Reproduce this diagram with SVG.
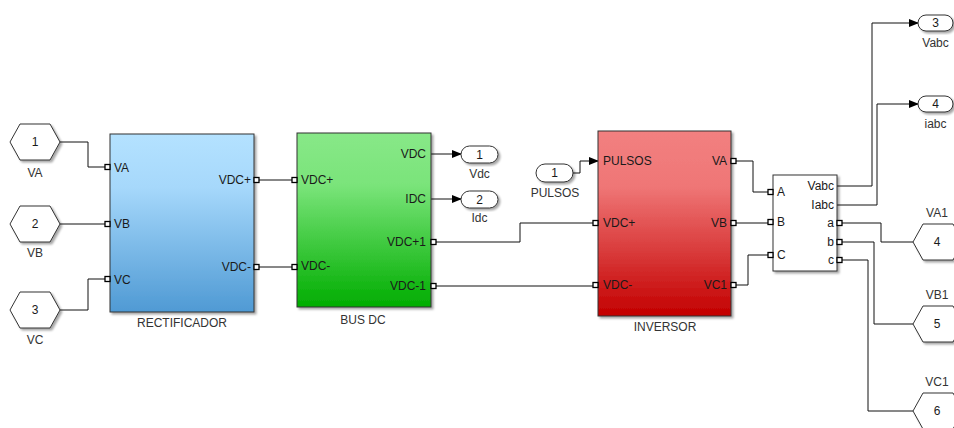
<svg xmlns="http://www.w3.org/2000/svg" width="954" height="428" viewBox="0 0 954 428">
<defs>
<linearGradient id="gBlue" x1="0" y1="0" x2="0" y2="1"><stop offset="0" stop-color="#b4e2ff"/><stop offset="0.3" stop-color="#a6d8fb"/><stop offset="1" stop-color="#4f9ad4"/></linearGradient>
<linearGradient id="gGreen" x1="0" y1="0" x2="0" y2="1"><stop offset="0" stop-color="#88e888"/><stop offset="0.3" stop-color="#7ae47a"/><stop offset="1" stop-color="#00ad00"/></linearGradient>
<linearGradient id="gRed" x1="0" y1="0" x2="0" y2="1"><stop offset="0" stop-color="#f28080"/><stop offset="0.3" stop-color="#ef7676"/><stop offset="1" stop-color="#c30000"/></linearGradient>
<filter id="sh" x="-10%" y="-10%" width="130%" height="130%"><feDropShadow dx="2" dy="2" stdDeviation="1.2" flood-color="#000" flood-opacity="0.35"/></filter>
<marker id="arr" markerWidth="10" markerHeight="8" refX="9" refY="4" orient="auto" markerUnits="userSpaceOnUse"><path d="M0,0 L10,4 L0,8 Z" fill="#000"/></marker>
</defs>
<style>
text{font-family:"Liberation Sans",Arial,sans-serif;font-size:12px;fill:#1a1a1a}
.lbl{fill:#333;text-anchor:middle}
.blk{stroke:#333;stroke-width:1}
.port{fill:#fff;stroke:#000;stroke-width:1.3}
.w{fill:none;stroke:#111;stroke-width:1}
.hex{fill:#fff;stroke:#333;stroke-width:1}
.pill{fill:#fff;stroke:#333;stroke-width:1}
.mid{text-anchor:middle}
.end{text-anchor:end}
</style>
<rect width="954" height="428" fill="#fff"/>

<g id="connectors">
<path class="w" d="M60,142 H88 V167 H105"/>
<path class="w" d="M60,224 H105"/>
<path class="w" d="M60,310 H88 V279 H105"/>
<path class="w" d="M259,180 H292"/>
<path class="w" d="M259,267 H292"/>
<path class="w" d="M431,154 H461" marker-end="url(#arr)"/>
<path class="w" d="M431,199 H461" marker-end="url(#arr)"/>
<path class="w" d="M436,242 H520 V223 H593"/>
<path class="w" d="M436,286 H593"/>
<path class="w" d="M573,173 H580 V161 H598" marker-end="url(#arr)"/>
<path class="w" d="M736,161 H753 V192 H768"/>
<path class="w" d="M736,223 H768"/>
<path class="w" d="M736,285 H748 V255 H768"/>
<path class="w" d="M837,186 H872 V23 H918" marker-end="url(#arr)"/>
<path class="w" d="M837,205 H877 V104 H918" marker-end="url(#arr)"/>
<path class="w" d="M842,223 H881 V242 H913"/>
<path class="w" d="M842,242 H874 V324 H913"/>
<path class="w" d="M842,260 H868 V411 H913"/>
</g>

<g id="in_VA">
<polygon class="hex" filter="url(#sh)" points="10,142 20,124 50,124 60,142 50,160 20,160"/>
<text class="mid" x="35" y="146">1</text>
<text class="lbl" x="35" y="177">VA</text>
</g>
<g id="in_VB">
<polygon class="hex" filter="url(#sh)" points="10,224 20,206 50,206 60,224 50,242 20,242"/>
<text class="mid" x="35" y="228">2</text>
<text class="lbl" x="35" y="257">VB</text>
</g>
<g id="in_VC">
<polygon class="hex" filter="url(#sh)" points="10,310 20,292 50,292 60,310 50,328 20,328"/>
<text class="mid" x="35" y="314">3</text>
<text class="lbl" x="35" y="344">VC</text>
</g>

<g id="rectificador">
<rect class="blk" filter="url(#sh)" x="110" y="134" width="144" height="178" fill="url(#gBlue)"/>
<rect class="port" x="105" y="164.5" width="5" height="5"/>
<rect class="port" x="105" y="221.5" width="5" height="5"/>
<rect class="port" x="105" y="276.5" width="5" height="5"/>
<rect class="port" x="254" y="177.5" width="5" height="5"/>
<rect class="port" x="254" y="264.5" width="5" height="5"/>
<text x="114" y="172">VA</text>
<text x="114" y="228">VB</text>
<text x="114" y="284">VC</text>
<text class="end" x="251" y="184">VDC+</text>
<text class="end" x="251" y="271">VDC-</text>
<text class="lbl" x="182" y="327">RECTIFICADOR</text>
</g>

<g id="busdc">
<rect class="blk" filter="url(#sh)" x="297" y="133" width="134" height="174" fill="url(#gGreen)"/>
<rect class="port" x="292" y="177.5" width="5" height="5"/>
<rect class="port" x="292" y="264.5" width="5" height="5"/>
<rect class="port" x="431" y="239.5" width="5" height="5"/>
<rect class="port" x="431" y="283.5" width="5" height="5"/>
<text x="301" y="184">VDC+</text>
<text x="301" y="270">VDC-</text>
<text class="end" x="426" y="158">VDC</text>
<text class="end" x="426" y="203">IDC</text>
<text class="end" x="426" y="246">VDC+1</text>
<text class="end" x="426" y="290">VDC-1</text>
<text class="lbl" x="363" y="324">BUS DC</text>
</g>

<g id="out_Vdc">
<rect class="pill" filter="url(#sh)" x="461" y="146" width="37" height="17" rx="8.5"/>
<text class="mid" x="479.5" y="158.5">1</text>
<text class="lbl" x="479.5" y="178">Vdc</text>
</g>
<g id="out_Idc">
<rect class="pill" filter="url(#sh)" x="461" y="191" width="37" height="17" rx="8.5"/>
<text class="mid" x="479.5" y="203.5">2</text>
<text class="lbl" x="479.5" y="222">Idc</text>
</g>

<g id="in_PULSOS">
<rect class="pill" filter="url(#sh)" x="536" y="164" width="37" height="18" rx="9"/>
<text class="mid" x="554.5" y="177">1</text>
<text class="lbl" x="555" y="197">PULSOS</text>
</g>

<g id="inversor">
<rect class="blk" filter="url(#sh)" x="598" y="131" width="133" height="185" fill="url(#gRed)"/>
<rect class="port" x="593" y="220.5" width="5" height="5"/>
<rect class="port" x="593" y="282.5" width="5" height="5"/>
<rect class="port" x="731" y="158.5" width="5" height="5"/>
<rect class="port" x="731" y="220.5" width="5" height="5"/>
<rect class="port" x="731" y="282.5" width="5" height="5"/>
<text x="603" y="165">PULSOS</text>
<text x="603" y="227">VDC+</text>
<text x="603" y="289">VDC-</text>
<text class="end" x="727" y="165">VA</text>
<text class="end" x="727" y="227">VB</text>
<text class="end" x="727" y="289">VC1</text>
<text class="lbl" x="665" y="331">INVERSOR</text>
</g>

<g id="medicion">
<rect filter="url(#sh)" x="773" y="175" width="64" height="96" fill="#fff" stroke="#333" stroke-width="1"/>
<rect class="port" x="768" y="189.5" width="5" height="5"/>
<rect class="port" x="768" y="219.5" width="5" height="5"/>
<rect class="port" x="768" y="252.5" width="5" height="5"/>
<rect class="port" x="837" y="220.5" width="5" height="5"/>
<rect class="port" x="837" y="239.5" width="5" height="5"/>
<rect class="port" x="837" y="257.5" width="5" height="5"/>
<text x="777" y="196">A</text>
<text x="777" y="226">B</text>
<text x="777" y="259">C</text>
<text class="end" x="834" y="190">Vabc</text>
<text class="end" x="834" y="209">Iabc</text>
<text class="end" x="834" y="227">a</text>
<text class="end" x="834" y="246">b</text>
<text class="end" x="834" y="264">c</text>
</g>

<g id="out_Vabc">
<rect class="pill" filter="url(#sh)" x="918" y="15" width="35" height="16" rx="8"/>
<text class="mid" x="935.5" y="27">3</text>
<text class="lbl" x="935.5" y="47">Vabc</text>
</g>
<g id="out_iabc">
<rect class="pill" filter="url(#sh)" x="918" y="96" width="35" height="16" rx="8"/>
<text class="mid" x="935.5" y="108">4</text>
<text class="lbl" x="935.5" y="128">iabc</text>
</g>

<g id="out_VA1">
<polygon class="hex" filter="url(#sh)" points="913,242 923,224 953,224 963,242 953,260 923,260"/>
<text class="mid" x="937" y="246">4</text>
<text class="lbl" x="937" y="217">VA1</text>
</g>
<g id="out_VB1">
<polygon class="hex" filter="url(#sh)" points="913,324 923,306 953,306 963,324 953,342 923,342"/>
<text class="mid" x="937" y="328">5</text>
<text class="lbl" x="937" y="299">VB1</text>
</g>
<g id="out_VC1">
<polygon class="hex" filter="url(#sh)" points="913,411 923,393 953,393 963,411 953,429 923,429"/>
<text class="mid" x="937" y="415">6</text>
<text class="lbl" x="937" y="386">VC1</text>
</g>
</svg>
